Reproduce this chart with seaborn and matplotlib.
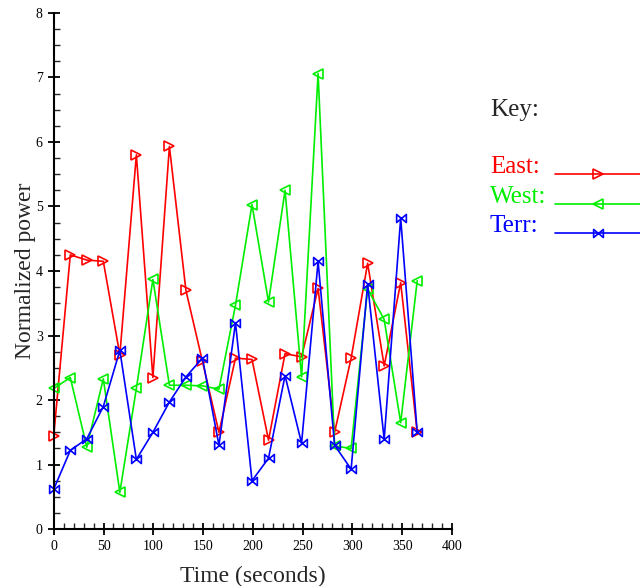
import numpy as np
import pandas as pd
import seaborn as sns
import matplotlib
matplotlib.use("Agg")
import matplotlib.pyplot as plt
from matplotlib.path import Path
from matplotlib.ticker import MultipleLocator

time = [0, 16.6, 33.2, 49.8, 66.4, 83.0, 99.6, 116.2, 132.8, 149.4, 166.0, 182.6,
        199.2, 215.8, 232.4, 249.0, 265.6, 282.2, 298.8, 315.4, 332.0, 348.6, 365.2]
east = [1.45, 4.25, 4.17, 4.15, 2.70, 5.80, 2.35, 5.93, 3.70, 2.60, 1.50, 2.65,
        2.63, 1.38, 2.72, 2.67, 3.73, 1.50, 2.65, 4.12, 2.53, 3.82, 1.50]
west = [2.18, 2.35, 1.27, 2.33, 0.57, 2.18, 3.87, 2.23, 2.23, 2.22, 2.17, 3.47,
        5.03, 3.52, 5.25, 2.36, 7.06, 1.29, 1.25, 3.72, 3.25, 1.65, 3.85]
terr = [0.62, 1.22, 1.40, 1.90, 2.77, 1.08, 1.50, 1.97, 2.36, 2.65, 1.30, 3.20,
        0.75, 1.10, 2.38, 1.33, 4.15, 1.30, 0.93, 3.80, 1.39, 4.82, 1.50]
series_names = ["East", "West", "Terr"]
colors = ["#ff0000", "#00ee00", "#0000ff"]

df = pd.DataFrame({"time": time, "East": east, "West": west, "Terr": terr})
long = df.melt(id_vars="time", var_name="series", value_name="power")

sns.set_style("ticks")
plt.rcParams["font.family"] = ["Liberation Serif", "DejaVu Serif"]

bowtie = Path([(-1.2, -1), (1.2, 1), (1.2, -1), (-1.2, 1), (-1.2, -1)],
              [Path.MOVETO, Path.LINETO, Path.LINETO, Path.LINETO, Path.CLOSEPOLY])
markers = {"East": ">", "West": "<", "Terr": bowtie}

fig = plt.figure(figsize=(6.4, 5.86), dpi=100)
ax = fig.add_axes([0.084, 0.097, 0.622, 0.881])

for name, col in zip(series_names, colors):
    sub = long[long["series"] == name]
    sns.lineplot(data=sub, x="time", y="power", ax=ax, color=col, lw=1.2,
                 marker=markers[name], markersize=7, markerfacecolor="none",
                 markeredgecolor=col, markeredgewidth=1.2, label=name + ":",
                 estimator=None, sort=False, clip_on=False)

ax.set_xlim(0, 400)
ax.set_ylim(0, 8)
ax.xaxis.set_major_locator(MultipleLocator(50))
ax.xaxis.set_minor_locator(MultipleLocator(10))
ax.yaxis.set_major_locator(MultipleLocator(1))
ax.yaxis.set_minor_locator(MultipleLocator(0.25))
ax.tick_params(which="major", direction="inout", length=9, width=1.3, labelsize=10,
               colors="black")
ax.tick_params(which="minor", direction="in", length=4, width=1.0)
for s in ["top", "right"]:
    ax.spines[s].set_visible(False)
for s in ["left", "bottom"]:
    ax.spines[s].set_linewidth(1.5)
    ax.spines[s].set_color("black")

ax.set_xlabel("Time (seconds)", fontsize=17, labelpad=9)
ax.set_ylabel("Normalized power", fontsize=17, labelpad=0)

fig.text(490 / 640, 1 - 116 / 586, "Key:", fontsize=18, ha="left", va="baseline")
leg = ax.legend(loc="upper right", bbox_to_anchor=(642 / 640, 1 - 165 / 586),
                bbox_transform=fig.transFigure, frameon=False, markerfirst=False,
                fontsize=18, handlelength=3.5, handletextpad=0.4, labelspacing=0.29,
                borderaxespad=0, borderpad=0)
fig.canvas.draw()
inv = fig.transFigure.inverted()
for txt, line, col in zip(leg.get_texts(), leg.get_lines(), colors):
    ly = line.get_transform().transform(line.get_xydata())[0, 1]
    fy = inv.transform((0, ly + 1))[1]
    fig.text(490 / 640, fy, txt.get_text(), fontsize=18, color=col,
             ha="left", va="baseline")
    txt.set_visible(False)

fig.savefig("out.png", dpi=100)
